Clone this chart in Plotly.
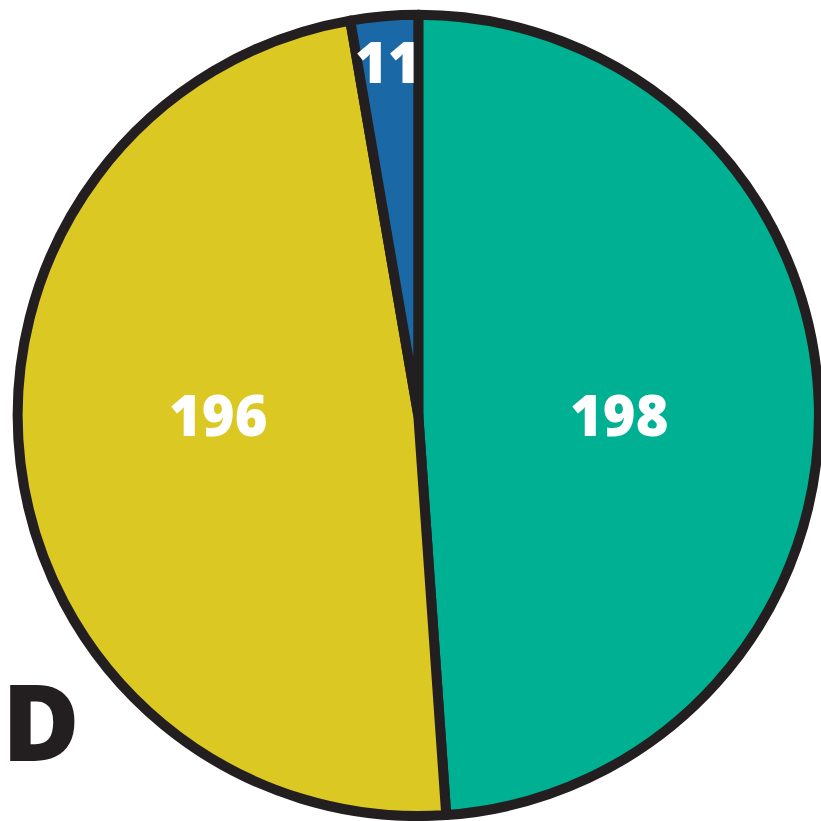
import math
import plotly.graph_objects as go

labels = ["A", "B", "C"]
values = [198, 196, 11]
colors = ["#00b092", "#dcc822", "#1a69a6"]
panel_label = "D"

W = H = 821
dom_x = [0.021, 0.998]
dom_y = [0.006, 0.982]

fig = go.Figure(
    go.Pie(
        labels=labels,
        values=values,
        sort=False,
        direction="clockwise",
        rotation=0,
        marker=dict(colors=colors, line=dict(color="#231f20", width=10)),
        textinfo="none",
        hoverinfo="label+value",
        showlegend=False,
        domain=dict(x=dom_x, y=dom_y),
    )
)

# value labels placed from the slice geometry
cx = sum(dom_x) / 2
cy = sum(dom_y) / 2
r = min((dom_x[1] - dom_x[0]) * W, (dom_y[1] - dom_y[0]) * H) / 2
total = sum(values)
start = 0.0
for v in values:
    frac = v / total
    mid = (start + frac / 2) * 2 * math.pi
    start += frac
    if frac > 0.25:
        dx = 0.5 * r * (1 if math.sin(mid) > 0 else -1)
        dy = 0.0
    else:
        dx = 0.885 * r * math.sin(mid)
        dy = 0.885 * r * math.cos(mid)
    fig.add_annotation(
        text=str(v),
        x=cx + dx / W, y=cy + dy / H, xref="paper", yref="paper",
        xanchor="center", yanchor="middle", yshift=1,
        showarrow=False,
        font=dict(family="Open Sans", size=56, color="white", weight=800),
    )

fig.add_annotation(
    text=panel_label,
    x=0.0, y=0.033, xref="paper", yref="paper",
    xanchor="left", yanchor="bottom",
    showarrow=False,
    font=dict(family="Open Sans", size=106, color="#231f20", weight=800),
)

fig.update_layout(
    width=W, height=H,
    margin=dict(l=0, r=0, t=0, b=0),
    paper_bgcolor="white",
    plot_bgcolor="white",
)

fig.write_html("out.html")
